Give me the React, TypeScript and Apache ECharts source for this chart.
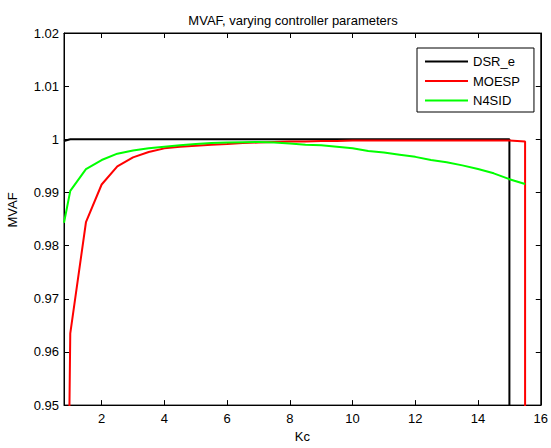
import React, { useEffect, useRef } from "react";
import * as echarts from "echarts";

const kc = [0.8, 1, 1.5, 2, 2.5, 3, 3.5, 4, 4.5, 5, 5.5, 6, 6.5, 7, 7.5, 8, 8.5, 9, 9.5, 10, 10.5, 11, 11.5, 12, 12.5, 13, 13.5, 14, 14.5, 15, 15.5, 16];

const dsrE = [0.9997, 1.0, 1.0, 1.0, 1.0, 1.0, 1.0, 1.0, 1.0, 1.0, 1.0, 1.0, 1.0, 1.0, 1.0, 1.0, 1.0, 1.0, 1.0, 1.0, 1.0, 1.0, 1.0, 1.0, 1.0, 1.0, 1.0, 1.0, 1.0, 1.0, -100, null];

const moesp = [0.86, 0.9635, 0.9844, 0.9915, 0.9949, 0.9966, 0.9976, 0.9983, 0.9986, 0.9988, 0.999, 0.9991, 0.9993, 0.9994, 0.9995, 0.9996, 0.9996, 0.9997, 0.9997, 0.9998, 0.9998, 0.9998, 0.9998, 0.9998, 0.9998, 0.9998, 0.9998, 0.9998, 0.9998, 0.9998, 0.9996, -100];

const n4sid = [0.9843, 0.9903, 0.9944, 0.9961, 0.9973, 0.9979, 0.9983, 0.9986, 0.9989, 0.9991, 0.9993, 0.9994, 0.99945, 0.9995, 0.9994, 0.9992, 0.999, 0.9989, 0.9986, 0.9983, 0.9978, 0.9975, 0.9971, 0.9967, 0.9961, 0.9957, 0.9951, 0.9944, 0.9936, 0.9925, 0.9916, null];

const xTicks = [2, 4, 6, 8, 10, 12, 14, 16];

const seriesNames = ["DSR_e", "MOESP", "N4SID"];
const seriesColors = ["#000000", "#ff0000", "#00ff00"];
const seriesValues = [dsrE, moesp, n4sid];

const FONT = "Liberation Sans, Arial, Helvetica, sans-serif";
const LEGEND_ICON = "path://M0,6L43,6L43,8L0,8Z";

export default function App() {
  const ref = useRef<HTMLDivElement>(null);
  useEffect(() => {
    if (!ref.current) return;
    const chart = echarts.init(ref.current, null, { renderer: "svg" });
    const fmtY = (v: number) => String(+Number(v).toFixed(2));
    chart.setOption({
      animation: false,
      textStyle: { fontFamily: FONT },
      grid: {
        left: 64,
        right: 8,
        top: 33,
        bottom: 37,
        show: true,
        borderColor: "#000",
        borderWidth: 1,
        backgroundColor: "#fff",
      },
      title: {
        text: "MVAF, varying controller parameters",
        left: 288,
        top: 9,
        textAlign: "center",
        textStyle: { fontSize: 13, fontWeight: "normal", color: "#000", fontFamily: FONT },
      },
      legend: {
        orient: "vertical",
        left: 417,
        top: 48,
        padding: [7, 14, 5, 8],
        itemWidth: 43,
        itemHeight: 14,
        itemGap: 6.5,
        icon: LEGEND_ICON,
        borderColor: "#000",
        borderWidth: 1,
        backgroundColor: "#fff",
        textStyle: { fontSize: 13, color: "#000", fontFamily: FONT },
        data: seriesNames,
      },
      xAxis: [
        {
          type: "value",
          min: 0.8,
          max: 16,
          position: "bottom",
          axisLine: { show: true, onZero: false, lineStyle: { color: "#000", width: 1 } },
          axisTick: { show: true, inside: true, length: 5, customValues: xTicks, lineStyle: { color: "#000" } },
          axisLabel: { show: true, customValues: xTicks, margin: 7, fontSize: 13, color: "#000", fontFamily: FONT },
          splitLine: { show: false },
          name: "Kc",
          nameLocation: "middle",
          nameGap: 24,
          nameTextStyle: { fontSize: 13, color: "#000", fontFamily: FONT },
        },
        {
          type: "value",
          min: 0.8,
          max: 16,
          position: "top",
          axisLine: { show: true, onZero: false, lineStyle: { color: "#000", width: 1 } },
          axisTick: { show: true, inside: true, length: 5, customValues: xTicks, lineStyle: { color: "#000" } },
          axisLabel: { show: false },
          splitLine: { show: false },
        },
      ],
      yAxis: [
        {
          type: "value",
          min: 0.95,
          max: 1.02,
          interval: 0.01,
          position: "left",
          axisLine: { show: true, onZero: false, lineStyle: { color: "#000", width: 1 } },
          axisTick: { show: true, inside: true, length: 5, lineStyle: { color: "#000" } },
          axisLabel: { show: true, margin: 5, fontSize: 13, color: "#000", fontFamily: FONT, formatter: fmtY },
          splitLine: { show: false },
        },
        {
          type: "value",
          min: 0.95,
          max: 1.02,
          interval: 0.01,
          position: "right",
          axisLine: { show: true, onZero: false, lineStyle: { color: "#000", width: 1 } },
          axisTick: { show: true, inside: true, length: 5, lineStyle: { color: "#000" } },
          axisLabel: { show: false },
          splitLine: { show: false },
        },
      ],
      graphic: [
        {
          type: "text",
          x: 12,
          y: 210,
          rotation: Math.PI / 2,
          style: {
            text: "MVAF",
            fontSize: 13,
            fill: "#000",
            fontFamily: FONT,
            textAlign: "center",
            textVerticalAlign: "middle",
          },
        },
      ],
      series: seriesNames.map((name, i) => ({
        name,
        type: "line",
        xAxisIndex: 0,
        yAxisIndex: 0,
        symbol: "none",
        showSymbol: false,
        clip: true,
        connectNulls: false,
        color: seriesColors[i],
        itemStyle: { color: seriesColors[i] },
        lineStyle: { color: seriesColors[i], width: 2 },
        data: kc.map((k, j) => [k, seriesValues[i][j]]),
      })),
    });
    return () => chart.dispose();
  }, []);
  return (
    <div
      ref={ref}
      style={{ position: "absolute", left: 0, top: 0, width: 551, height: 448, background: "#fff" }}
    />
  );
}
